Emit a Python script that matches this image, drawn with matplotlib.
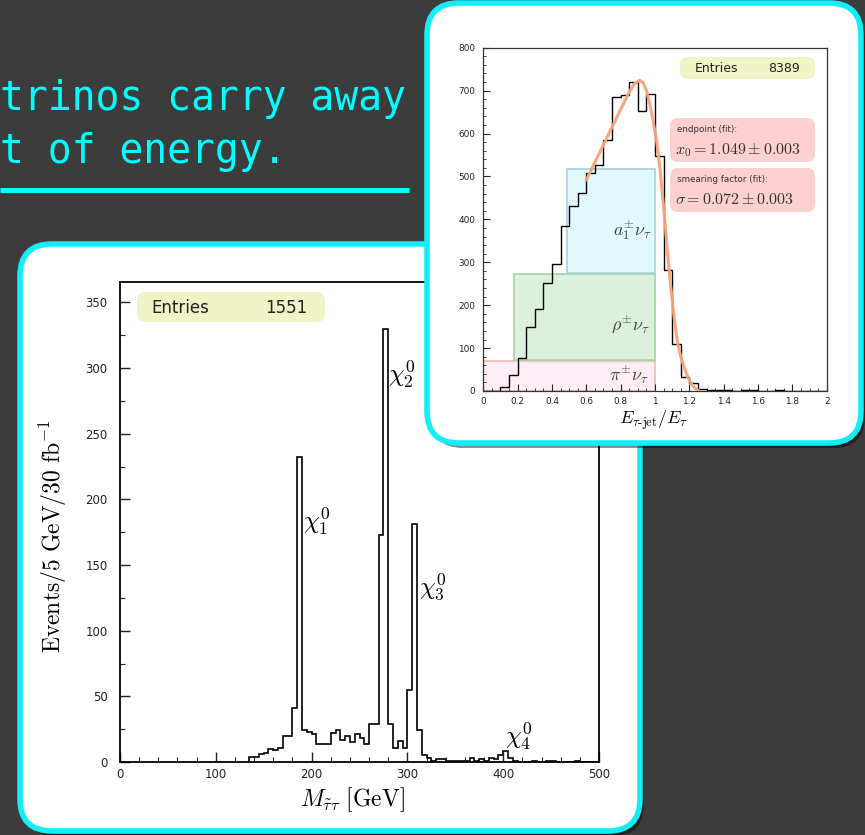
import matplotlib.pyplot as plt
import numpy as np
from matplotlib.patches import FancyBboxPatch, Rectangle
from matplotlib.ticker import MultipleLocator, FuncFormatter

plt.rcParams['mathtext.fontset'] = 'cm'

# --- left histogram: M(stau tau), 5 GeV bins starting at 135 GeV ---
mass_lo = 135
mass_width = 5
mass_counts = [4, 4, 6, 7, 10, 9, 11, 20, 20, 41,
               232, 24, 23, 21, 14, 14, 14, 22, 24, 17,
               20, 15, 21, 18, 14, 29, 29, 173, 330, 29,
               11, 16, 11, 55, 181, 24, 5, 3, 1, 2,
               2, 1, 1, 1, 1, 1, 3, 1, 2, 1,
               3, 2, 5, 8, 3, 1, 0, 0, 0, 1,
               0, 0, 1, 1, 0, 0, 0, 0, 1, 0,
               0, 0, 0]
peak_labels = [r'$\chi_1^0$', r'$\chi_2^0$', r'$\chi_3^0$', r'$\chi_4^0$']
peak_pos = [(191, 183), (280, 295), (312, 133), (402, 19)]
entries_left = '1551'

# --- right histogram: E(tau-jet)/E(tau), 0.05 bins from 0 to 2 ---
frac_width = 0.05
frac_counts = [0, 1, 10, 37, 76, 150, 192, 251, 295, 384,
               431, 461, 509, 527, 586, 684, 690, 719, 652, 693,
               548, 283, 110, 33, 19, 4, 2, 2, 2, 1,
               2, 3, 1, 1, 2, 1, 1, 1, 1, 1]
fit_x = [0.60, 0.65, 0.70, 0.75, 0.80, 0.85, 0.88, 0.91, 0.93, 0.95, 0.97,
         0.99, 1.01, 1.03, 1.05, 1.07, 1.09, 1.11, 1.13, 1.15, 1.17, 1.19,
         1.21, 1.23, 1.25]
fit_y = [492, 533, 574, 615, 656, 697, 716, 724, 719, 700, 668,
         628, 580, 515, 430, 335, 250, 175, 115, 80, 55, 33,
         18, 7, 2]
# decay-mode bands: (x0, x1, y0, y1, label, label x, label y)
bands = [(0.0, 1.0, 0, 70, r'$\pi^{\pm}\nu_\tau$', 0.85, 37),
         (0.18, 1.0, 73, 273, r'$\rho^{\pm}\nu_\tau$', 0.855, 155),
         (0.485, 1.0, 276, 517, r'$a_1^{\pm}\nu_\tau$', 0.87, 375)]
band_fc = ['#fdeef6', '#dcf1dc', '#e1f8fc']
band_ec = ['#f6b9b0', '#a3d3a3', '#a9d0da']
entries_right = '8389'
fit_text = [('endpoint (fit):', r'$x_0 = 1.049 \pm 0.003$'),
            ('smearing factor (fit):', r'$\sigma = 0.072 \pm 0.003$')]

W, H = 865, 835
CYAN = '#12eef6'
fig = plt.figure(figsize=(W / 100, H / 100), dpi=100)
fig.patch.set_facecolor('#3c3c3c')


def pix_axes(z):
    a = fig.add_axes([0, 0, 1, 1], zorder=z)
    a.set_xlim(0, W)
    a.set_ylim(H, 0)
    a.axis('off')
    return a


def panel(a, x0, y0, x1, y1):
    a.add_patch(FancyBboxPatch((x0 + 4, y0 + 5), x1 - x0, y1 - y0,
                               boxstyle='round,pad=0,rounding_size=32',
                               fc='black', ec='none', alpha=0.45))
    a.add_patch(FancyBboxPatch((x0, y0), x1 - x0, y1 - y0,
                               boxstyle='round,pad=0,rounding_size=32',
                               fc='white', ec=CYAN, lw=4))


def rbox(a, x0, y0, x1, y1, fc, r=9):
    a.add_patch(FancyBboxPatch((x0, y0), x1 - x0, y1 - y0,
                               boxstyle='round,pad=0,rounding_size=%d' % r,
                               fc=fc, ec='none', zorder=3))


# background slide
bg = pix_axes(0)
bg.text(0, 110, 'trinos carry away', family='DejaVu Sans Mono', fontsize=28.6,
        color='#00ffff', va='baseline')
bg.text(0, 163, 't of energy.', family='DejaVu Sans Mono', fontsize=28.6,
        color='#00ffff', va='baseline')
bg.plot([0, 409], [189.5, 189.5], color='#00ffff', lw=3.6, solid_capstyle='butt')

panel(bg, 20, 244, 640, 831)
rbox(bg, 137, 292, 325, 322, '#eff3c6')
bg.text(151, 308, 'Entries', fontsize=12, color='#222222', va='center')
bg.text(307, 308, entries_left, fontsize=12, color='#222222', va='center', ha='right')

# left plot
axL = fig.add_axes([120 / W, 1 - 762 / H, 479 / W, 480 / H], zorder=1)
axL.set_facecolor('none')
edges = mass_lo + mass_width * np.arange(len(mass_counts) + 1)
axL.stairs(mass_counts, edges, color='black', lw=1.2, baseline=0)
axL.set_xlim(0, 500)
axL.set_ylim(0, 365.6)
axL.xaxis.set_major_locator(MultipleLocator(100))
axL.xaxis.set_minor_locator(MultipleLocator(20))
axL.yaxis.set_major_locator(MultipleLocator(50))
axL.yaxis.set_minor_locator(MultipleLocator(25))
axL.tick_params(which='both', direction='in', labelsize=8.5, colors='#222222')
axL.tick_params(which='major', length=7, width=1)
axL.tick_params(which='minor', length=3.5, width=0.8)
axL.tick_params(axis='y', pad=9)
axL.tick_params(axis='x', pad=4)
for s in axL.spines.values():
    s.set_linewidth(1.3)
for lab, (px, py) in zip(peak_labels, peak_pos):
    axL.text(px, py, lab, fontsize=18, ha='left', va='center')
axL.text(-0.14, 0.47, r'$\mathrm{Events/5\ GeV/30\ fb^{-1}}$', fontsize=17,
         rotation=90, ha='center', va='center', transform=axL.transAxes)
axL.text(0.486, -0.079, r'$M_{\tilde{\tau}\tau}\ [\mathrm{GeV}]$', fontsize=17,
         ha='center', va='center', transform=axL.transAxes)

# right panel
ov = pix_axes(2)
panel(ov, 427, 3, 861, 443)
rbox(ov, 680, 57, 815, 79, '#eff3c6', r=8)
ov.text(695, 68, 'Entries', fontsize=9, color='#222222', va='center')
ov.text(800, 68, entries_right, fontsize=9, color='#222222', va='center', ha='right')
for i, (small, big) in enumerate(fit_text):
    y0 = 118 + i * 50
    rbox(ov, 670, y0, 815, y0 + 44, '#fdd0d0', r=8)
    ov.text(677, y0 + 12, small, fontsize=6.3, color='#333333', va='center')
    ov.text(675, y0 + 32, big, fontsize=11.5, color='#333333', va='center')

axR = fig.add_axes([483.3 / W, 1 - 391 / H, 343.4 / W, 343.3 / H], zorder=3)
axR.set_facecolor('none')
for (x0, x1, y0, y1, lab, lx, ly), fc, ec in zip(bands, band_fc, band_ec):
    axR.add_patch(Rectangle((x0, y0), x1 - x0, y1 - y0, fc=fc, ec=ec, lw=1.2, zorder=1))
    axR.text(lx, ly, lab, fontsize=13, color='#444444', ha='center', va='center', zorder=2)
fedges = frac_width * np.arange(len(frac_counts) + 1)
axR.stairs(frac_counts, fedges, color='black', lw=1.0, baseline=0, zorder=3)
axR.plot(fit_x, fit_y, color='#f9a27a', lw=2.2, alpha=0.95, zorder=4)
axR.set_xlim(0, 2)
axR.set_ylim(0, 800)
axR.xaxis.set_major_locator(MultipleLocator(0.2))
axR.xaxis.set_minor_locator(MultipleLocator(0.05))
axR.yaxis.set_major_locator(MultipleLocator(100))
axR.yaxis.set_minor_locator(MultipleLocator(20))
axR.xaxis.set_major_formatter(FuncFormatter(lambda v, p: '%g' % round(v, 2)))
axR.tick_params(which='both', direction='in', labelsize=6.4, colors='#222222')
axR.tick_params(which='major', length=5, width=0.8)
axR.tick_params(which='minor', length=2.5, width=0.6)
axR.tick_params(axis='y', pad=6)
axR.tick_params(axis='x', pad=4)
for s in axR.spines.values():
    s.set_linewidth(0.9)
    s.set_color('#333333')
axR.text(0.497, -0.084, r'$E_{\tau\mathrm{\text{-}jet}}/E_{\tau}$', fontsize=13,
         ha='center', va='center', transform=axR.transAxes)

fig.savefig('out.png', dpi=100, facecolor=fig.get_facecolor())
